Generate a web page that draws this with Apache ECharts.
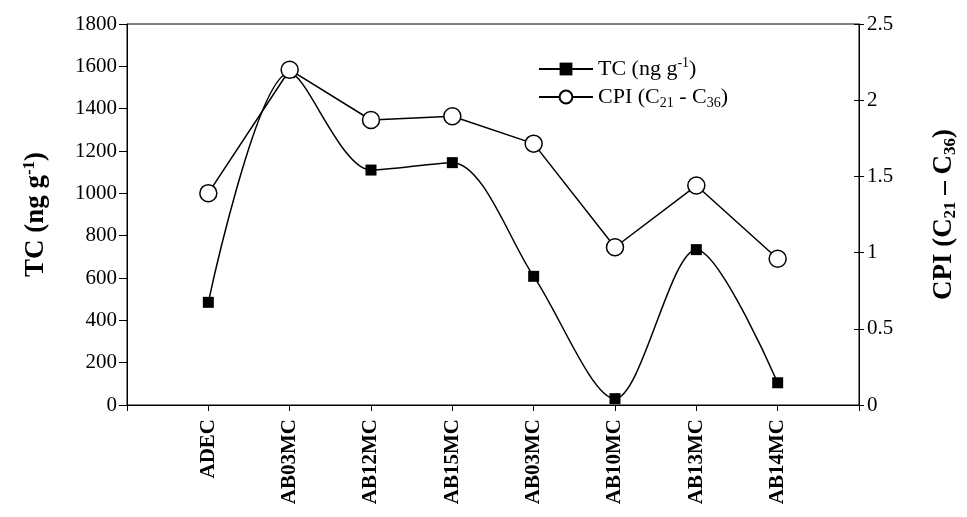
<!DOCTYPE html>
<html lang="en">
<head>
    <meta charset="UTF-8">
    <title>TC / CPI</title>
    <script src="https://cdn.jsdelivr.net/npm/echarts@6/dist/echarts.min.js"></script>
</head>
<body style="margin:0">
<div id="chart" style="width: 967px;height:517px;"></div>

<script type="text/javascript">
    // samples along the x axis (the first and last slot on the axis are empty)
    var samples = ['ADEC', 'AB03MC', 'AB12MC', 'AB15MC', 'AB03MC', 'AB10MC', 'AB13MC', 'AB14MC'];
    var tcValues = [485, 1570, 1110, 1145, 608, 30, 734, 105];
    var cpiValues = [1.39, 2.2, 1.87, 1.895, 1.715, 1.035, 1.44, 0.96];

    var font = 'Liberation Serif';
    var black = '#000';

    // pad with an empty slot on both sides
    var cats = [''].concat(samples).concat(['']);
    var tcData = ['-'].concat(tcValues).concat(['-']);
    var cpiData = ['-'].concat(cpiValues).concat(['-']);

    var nameRich = {
        b: {fontFamily: font, fontWeight: 'bold', fontSize: 27, color: black, lineHeight: 30},
        sup: {fontFamily: font, fontWeight: 'bold', fontSize: 17, color: black, lineHeight: 30, verticalAlign: 'top', padding: [0, 0, 14, 0]},
        sub: {fontFamily: font, fontWeight: 'bold', fontSize: 17, color: black, lineHeight: 30, verticalAlign: 'bottom', padding: [10, 0, 0, 0]}
    };
    var legRich = {
        t: {fontFamily: font, fontSize: 22, color: black, lineHeight: 26},
        sup: {fontFamily: font, fontSize: 14, color: black, lineHeight: 26, verticalAlign: 'top', padding: [0, 0, 10, 0]},
        sub: {fontFamily: font, fontSize: 14, color: black, lineHeight: 26, verticalAlign: 'bottom', padding: [9, 0, 0, 0]}
    };

    var myChart = echarts.init(document.getElementById('chart'));
    var option = {
        animation: false,
        backgroundColor: '#fff',
        grid: {left: 127, right: 105, top: 24, bottom: 112, show: true, borderColor: black, borderWidth: 1},
        legend: {
            orient: 'vertical',
            left: 533,
            top: 51,
            itemWidth: 54,
            itemHeight: 16,
            itemGap: 6,
            data: ['TC', 'CPI'],
            formatter: function (n) {
                if (n === 'TC') return '{t|TC (ng g}{sup|-1}{t|)}';
                return '{t|CPI (C}{sub|21}{t| - C}{sub|36}{t|)}';
            },
            textStyle: {rich: legRich}
        },
        xAxis: {
            type: 'category',
            data: cats,
            boundaryGap: false,
            axisLine: {lineStyle: {color: black, width: 1}},
            axisTick: {length: 6, lineStyle: {color: black}},
            axisLabel: {
                rotate: 90, interval: 0, margin: 14,
                fontFamily: font, fontWeight: 'bold', fontSize: 21, color: black
            },
            splitLine: {show: false}
        },
        yAxis: [{
            type: 'value',
            min: 0, max: 1800, interval: 200,
            position: 'left',
            name: '{b|TC (ng g}{sup|-1}{b|)}',
            nameLocation: 'middle',
            nameGap: 76,
            nameTextStyle: {rich: nameRich},
            axisLine: {show: true, lineStyle: {color: black, width: 1}},
            axisTick: {show: true, length: 8, lineStyle: {color: black}},
            axisLabel: {
                fontFamily: font, fontSize: 21, color: black, margin: 10,
                formatter: function (v) { return String(v); }
            },
            splitLine: {show: false}
        }, {
            type: 'value',
            min: 0, max: 2.5, interval: 0.5,
            position: 'right',
            name: '{b|CPI (C}{sub|21}{b| – C}{sub|36}{b|)}',
            nameLocation: 'middle',
            nameGap: 70,
            nameRotate: 90,
            nameTextStyle: {rich: nameRich},
            axisLine: {show: true, lineStyle: {color: black, width: 1}},
            axisTick: {show: true, length: 5, lineStyle: {color: black}},
            axisLabel: {fontFamily: font, fontSize: 21, color: black, margin: 8},
            splitLine: {show: false}
        }, {
            // inner half of the right axis ticks
            type: 'value',
            min: 0, max: 2.5, interval: 0.5,
            position: 'right',
            axisLine: {show: false},
            axisTick: {show: true, inside: true, length: 5, lineStyle: {color: black}},
            axisLabel: {show: false},
            splitLine: {show: false}
        }],
        series: [{
            name: 'TC',
            type: 'line',
            yAxisIndex: 0,
            data: tcData,
            smooth: 0.3,
            symbol: 'rect',
            symbolSize: 11,
            itemStyle: {color: black},
            lineStyle: {color: black, width: 1.5},
            z: 2
        }, {
            name: 'CPI',
            type: 'line',
            yAxisIndex: 1,
            data: cpiData,
            symbol: 'circle',
            symbolSize: 17,
            itemStyle: {color: '#fff', borderColor: black, borderWidth: 1.5},
            lineStyle: {color: black, width: 1.5},
            z: 3
        }]
    };
    myChart.setOption(option);
</script>
</body>
</html>
